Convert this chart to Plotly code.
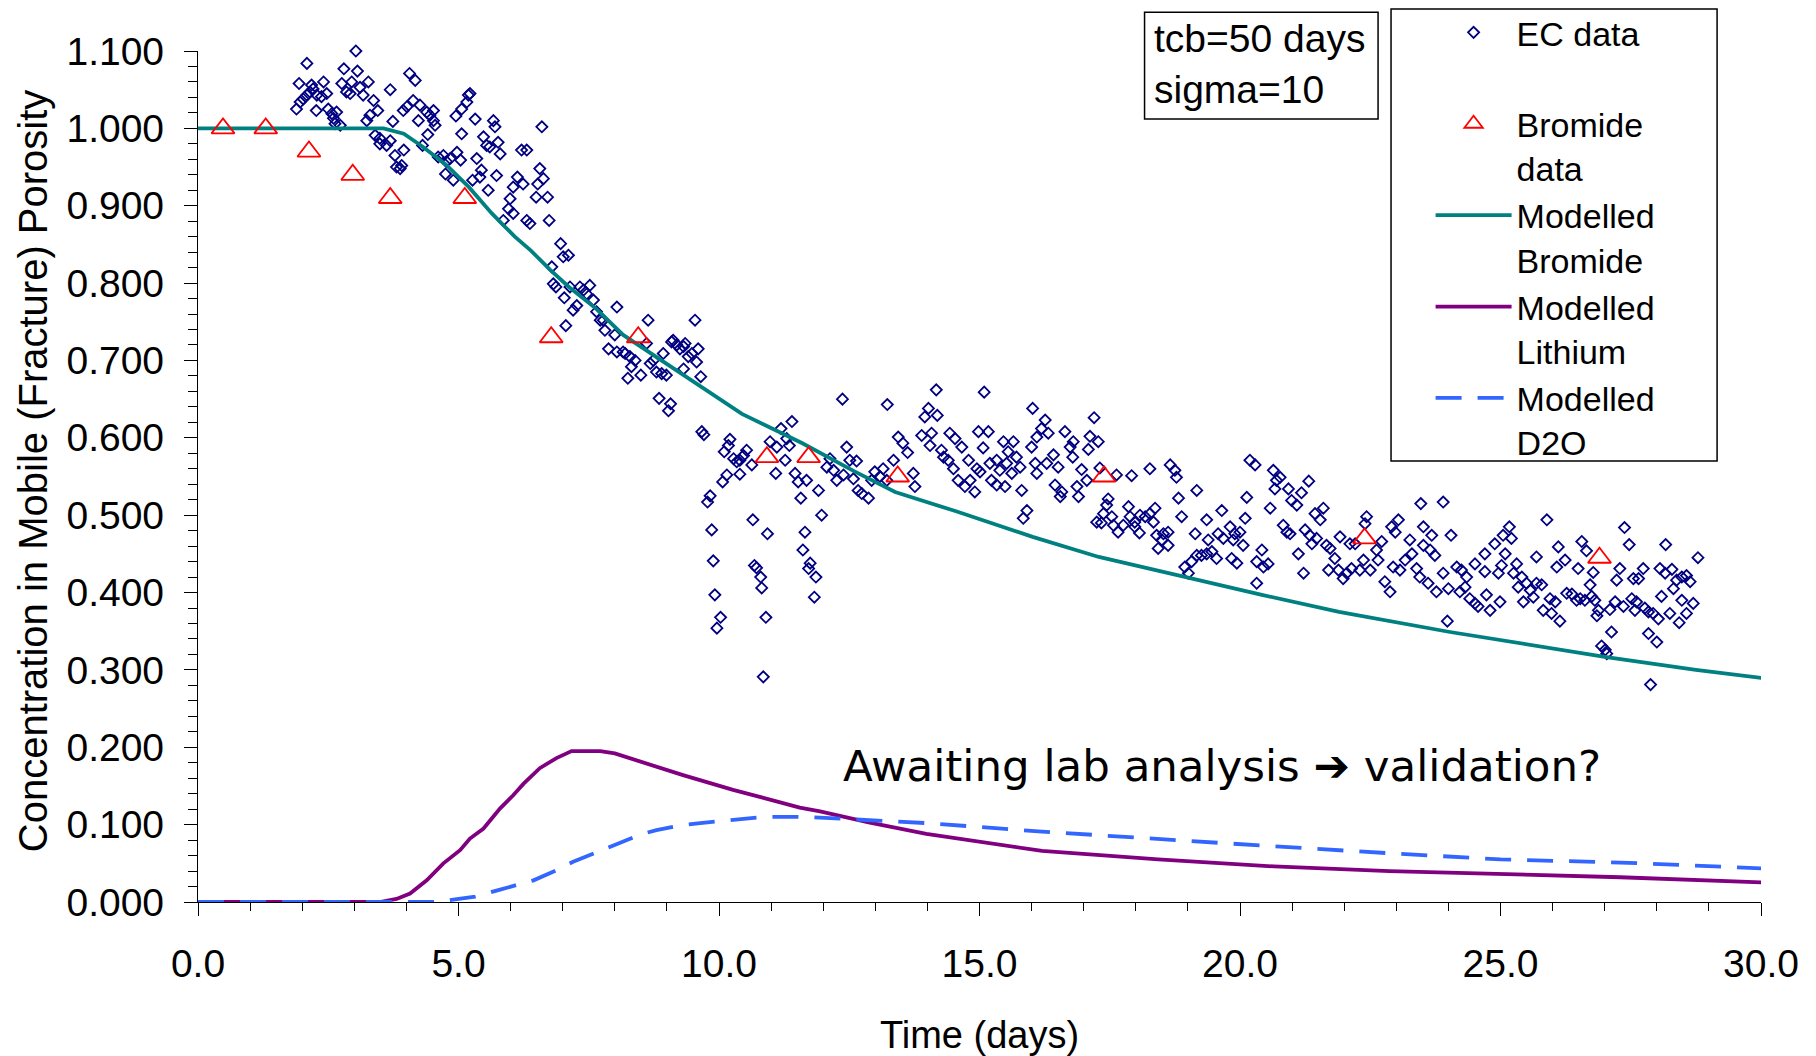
import plotly.graph_objects as go

# ---------------- data ----------------
# Modelled curves (time in days, concentration)
mod_br_time = [0, 1, 2, 3, 3.56, 3.95, 4.32, 4.76, 5.2, 5.64, 6.08, 6.39, 6.76, 7.12, 7.64, 8.16,
               8.9, 9.41, 10.0, 10.44, 11.6, 12.59, 13.38, 14.55, 16.02, 17.29, 18.96, 20.42,
               21.9, 24.03, 27.0, 28.75, 30.2]
mod_br_conc = [1.0, 1.0, 1.0, 1.0, 1.0, 0.993, 0.976, 0.953, 0.924, 0.890, 0.860, 0.842, 0.817,
               0.795, 0.767, 0.733, 0.700, 0.676, 0.651, 0.631, 0.593, 0.557, 0.530, 0.505,
               0.472, 0.446, 0.420, 0.397, 0.375, 0.349, 0.317, 0.300, 0.288]

mod_li_time = [0, 1, 2, 3, 3.49, 3.81, 4.07, 4.39, 4.71, 5.03, 5.22, 5.48, 5.8, 6.05, 6.25, 6.56,
               6.88, 7.17, 7.72, 8.0, 8.68, 9.31, 10.27, 10.98, 11.55, 11.94, 12.87, 13.98,
               16.2, 18.43, 20.65, 22.87, 25.0, 27.3, 30.2]
mod_li_conc = [0, 0, 0, 0, 0, 0.004, 0.011, 0.028, 0.05, 0.067, 0.082, 0.095, 0.121, 0.138,
               0.153, 0.173, 0.186, 0.195, 0.195, 0.192, 0.177, 0.164, 0.145, 0.132, 0.122,
               0.117, 0.103, 0.088, 0.066, 0.055, 0.046, 0.040, 0.036, 0.032, 0.025]

mod_d2o_time = [0, 1, 2, 3, 4, 4.58, 4.9, 5.32, 5.8, 6.44, 6.88, 7.2, 7.68, 8.0, 8.48, 8.8, 9.25,
                9.64, 10.08, 10.85, 11.65, 12.87, 13.98, 16.2, 18.43, 20.65, 22.87, 25.0, 27.3, 30.2]
mod_d2o_conc = [0, 0, 0, 0, 0, 0, 0.003, 0.007, 0.016, 0.028, 0.041, 0.052, 0.065, 0.074, 0.087,
                0.093, 0.099, 0.102, 0.105, 0.110, 0.110, 0.106, 0.102, 0.091, 0.081, 0.072,
                0.063, 0.055, 0.051, 0.043]

# Bromide data
br_time = [0.48, 1.3, 2.13, 2.97, 3.69, 5.12, 6.78, 8.45, 10.92, 11.72, 13.43, 17.39, 22.39, 26.9]
br_conc = [1.0, 1.0, 0.97, 0.94, 0.91, 0.91, 0.73, 0.73, 0.575, 0.575, 0.55, 0.55, 0.47, 0.445]

# EC data (in segments)
ec_time_a = [2.09, 3.03, 1.94, 1.89, 1.96, 2.02, 2.09, 2.15, 2.21, 2.18,
             2.28, 2.41, 2.37, 2.27, 2.47, 2.50, 2.57, 2.60, 2.66, 2.73,
             2.63, 2.80, 3.06, 2.76, 2.95, 2.85, 2.92, 3.11, 3.27, 3.17,
             3.37, 3.45, 3.24, 3.30, 3.69, 3.74, 4.06, 4.17, 4.13, 4.01,
             3.94, 4.26, 4.39, 4.23, 4.52, 4.45, 4.52, 4.55, 4.41, 3.40,
             3.49, 3.49, 3.62, 3.69, 3.78, 3.95, 3.81, 3.88, 3.91, 4.31,
             4.61, 4.71, 4.77, 4.84, 4.75, 4.90, 4.97, 5.04, 4.95, 5.06,
             5.16, 5.19, 5.22, 5.06, 5.32, 5.67, 5.70, 5.48, 5.54, 5.60,
             5.76, 5.80, 5.35, 5.44, 5.41, 5.27, 5.57, 5.73, 6.21, 6.31,
             6.60, 6.56, 6.63, 6.52, 6.13, 6.05, 6.24, 5.99, 6.49, 6.71,
             5.96, 6.05, 5.86, 6.31, 6.37, 6.74, 6.96, 7.01, 7.11, 6.79,
             6.82, 6.87, 7.03, 7.20, 7.27, 7.14, 7.33, 7.40, 7.52, 7.46,
             7.59, 7.65, 7.72, 7.81, 8.04, 8.64, 7.06, 7.88, 8.04, 8.16,
             9.54, 9.12, 9.19, 9.32, 9.60, 8.93]
ec_conc_a = [1.084, 1.100, 1.058, 1.025, 1.034, 1.038, 1.043, 1.047, 1.051, 1.056,
             1.043, 1.060, 1.041, 1.023, 1.045, 1.025, 1.019, 1.013, 1.021, 1.004,
             1.006, 1.077, 1.074, 1.058, 1.060, 1.047, 1.045, 1.053, 1.060, 1.043,
             1.036, 1.023, 1.010, 1.017, 1.050, 1.009, 1.071, 1.062, 1.036, 1.028,
             1.023, 1.030, 1.021, 1.010, 1.023, 1.017, 1.010, 1.004, 0.992, 0.991,
             0.987, 0.980, 0.978, 0.984, 0.965, 0.972, 0.950, 0.948, 0.952, 0.978,
             0.963, 0.965, 0.957, 0.961, 0.941, 0.933, 0.969, 0.959, 1.016, 1.025,
             1.034, 1.043, 1.045, 0.993, 1.012, 1.010, 1.002, 0.989, 0.978, 0.976,
             0.982, 0.967, 0.961, 0.946, 0.937, 0.933, 0.920, 0.939, 0.972, 0.972,
             1.002, 0.948, 0.935, 0.928, 0.937, 0.924, 0.928, 0.909, 0.911, 0.911,
             0.896, 0.890, 0.881, 0.881, 0.877, 0.881, 0.851, 0.834, 0.836, 0.821,
             0.799, 0.795, 0.781, 0.765, 0.771, 0.795, 0.795, 0.791, 0.797, 0.786,
             0.778, 0.763, 0.752, 0.739, 0.769, 0.752, 0.745, 0.715, 0.711, 0.711,
             0.752, 0.726, 0.720, 0.718, 0.715, 0.709]

ec_time_b = [7.78, 8.00, 8.20, 8.29, 8.32, 8.25, 8.50, 8.39, 8.61, 8.68,
             8.74, 8.80, 8.90, 8.99, 9.09, 9.25, 9.35, 9.41, 9.48, 9.57,
             9.32, 9.65, 8.85, 9.07, 9.03, 9.67, 9.71, 10.21, 10.18, 10.10,
             10.28, 10.34, 10.40, 10.47, 10.53, 10.63, 10.40, 10.15, 10.07, 9.83,
             9.78, 9.86, 9.89, 9.92, 10.03, 9.96, 10.65, 10.93, 10.68, 10.72,
             10.80, 10.82, 10.90, 10.85, 10.98, 11.11, 11.19, 11.40, 11.30, 11.35,
             11.27, 11.09, 11.46, 11.52, 11.68, 11.57, 11.91, 11.97, 11.65, 11.61,
             11.75, 11.72, 11.86, 11.83, 12.37, 12.45, 12.51, 12.64, 12.13, 12.07,
             12.20, 12.26, 12.39, 12.58, 12.67, 12.74, 12.87, 12.93, 12.99, 13.09,
             13.15, 13.22, 13.35, 13.44, 13.53, 13.62, 13.73, 13.76, 13.23, 14.17,
             14.02, 14.19, 13.95, 13.89, 14.08, 14.05, 14.31, 14.43, 14.53, 14.27,
             14.40, 14.50, 14.66, 14.79, 14.59, 14.82, 14.72, 14.91, 14.98, 15.17,
             15.07, 14.95, 15.01, 15.09, 15.46, 15.65, 15.55, 15.71, 15.20, 15.33,
             15.39, 15.52, 15.62, 15.23, 15.33, 15.49, 15.78, 15.81, 16.02, 16.26,
             16.19, 16.32, 16.10, 16.00, 16.07, 16.10, 16.29, 16.42, 16.45, 16.58,
             16.55, 16.64, 16.80, 16.74, 16.79, 16.51, 15.91, 15.84, 16.87, 16.90]
ec_conc_b = [0.752, 0.733, 0.709, 0.705, 0.692, 0.677, 0.681, 0.700, 0.722, 0.696,
             0.700, 0.685, 0.683, 0.681, 0.724, 0.715, 0.722, 0.705, 0.709, 0.698,
             0.689, 0.679, 0.651, 0.644, 0.635, 0.608, 0.604, 0.598, 0.590, 0.582,
             0.573, 0.569, 0.571, 0.577, 0.584, 0.565, 0.553, 0.552, 0.543, 0.525,
             0.517, 0.481, 0.441, 0.397, 0.368, 0.354, 0.494, 0.476, 0.435, 0.432,
             0.420, 0.406, 0.368, 0.291, 0.595, 0.588, 0.612, 0.621, 0.599, 0.590,
             0.571, 0.554, 0.554, 0.543, 0.545, 0.522, 0.532, 0.500, 0.478, 0.455,
             0.438, 0.431, 0.420, 0.394, 0.650, 0.588, 0.571, 0.570, 0.573, 0.562,
             0.558, 0.545, 0.552, 0.547, 0.532, 0.528, 0.522, 0.545, 0.556, 0.550,
             0.560, 0.545, 0.571, 0.601, 0.593, 0.581, 0.554, 0.537, 0.643, 0.662,
             0.638, 0.629, 0.627, 0.603, 0.606, 0.590, 0.575, 0.606, 0.599, 0.584,
             0.571, 0.560, 0.588, 0.571, 0.545, 0.545, 0.537, 0.530, 0.608, 0.608,
             0.587, 0.560, 0.556, 0.659, 0.595, 0.595, 0.582, 0.575, 0.567, 0.571,
             0.558, 0.567, 0.554, 0.545, 0.539, 0.537, 0.562, 0.532, 0.638, 0.623,
             0.612, 0.606, 0.601, 0.588, 0.567, 0.554, 0.567, 0.578, 0.539, 0.530,
             0.524, 0.608, 0.595, 0.588, 0.575, 0.562, 0.506, 0.496, 0.537, 0.524]

ec_time_c = [17.20, 17.12, 17.28, 17.09, 16.96, 17.31, 17.06, 17.63, 17.92, 18.27,
             18.66, 18.75, 18.78, 19.17, 18.82, 17.47, 17.44, 17.38, 17.54, 17.25,
             17.34, 17.57, 17.66, 17.76, 17.86, 17.89, 17.98, 18.08, 18.18, 18.27,
             18.37, 18.34, 18.07, 17.98, 18.40, 18.53, 18.62, 18.50, 18.62, 18.43,
             18.88, 19.14, 19.36, 19.39, 19.65, 19.58, 19.68, 19.81, 19.90, 20.00,
             20.06, 19.87, 20.19, 20.29, 20.64, 20.70, 20.77, 20.93, 21.18, 21.32,
             20.67, 20.99, 21.09, 20.13, 20.58, 20.10, 18.94, 19.01, 19.07, 19.17,
             19.26, 19.36, 19.46, 19.55, 19.84, 19.94, 20.32, 20.42, 20.32, 20.45,
             20.54, 20.83, 20.90, 20.96, 21.12, 21.22, 21.25, 21.34, 21.47, 21.38,
             21.44, 21.54, 21.60, 21.66, 21.73, 21.82, 21.92, 21.70, 21.89, 21.98,
             22.05, 22.11, 22.21, 22.14, 22.30, 22.37, 22.50, 22.43, 22.40, 22.62,
             22.72, 22.65, 22.78, 22.88, 22.91, 23.04, 22.98, 22.94, 23.07, 23.17,
             23.26, 23.30, 23.39, 23.45, 23.47, 23.52, 23.68, 23.52, 23.65, 23.74,
             23.61, 23.77, 23.90, 23.90, 24.05, 24.00, 24.16, 24.25, 24.35, 24.22,
             24.32, 23.98, 24.41, 24.51, 24.57, 24.73, 24.80, 24.70, 24.96, 24.99,
             24.51, 24.70, 24.89, 25.05, 25.17, 25.21, 25.09, 25.02, 25.31, 25.25,
             25.41, 25.50, 25.34, 25.57, 25.44, 25.63, 25.69, 25.79, 25.89, 25.82,
             25.98, 25.95, 26.11, 25.69, 26.08, 26.24, 26.14, 26.05, 26.27]
ec_conc_c = [0.626, 0.602, 0.595, 0.585, 0.559, 0.561, 0.545, 0.552, 0.551, 0.560,
             0.565, 0.558, 0.549, 0.532, 0.522, 0.521, 0.513, 0.502, 0.498, 0.491,
             0.490, 0.487, 0.478, 0.487, 0.511, 0.498, 0.491, 0.500, 0.498, 0.502,
             0.509, 0.491, 0.477, 0.485, 0.474, 0.476, 0.478, 0.468, 0.461, 0.457,
             0.498, 0.476, 0.494, 0.468, 0.506, 0.476, 0.470, 0.485, 0.476, 0.478,
             0.461, 0.468, 0.571, 0.565, 0.558, 0.545, 0.549, 0.534, 0.529, 0.544,
             0.534, 0.519, 0.513, 0.523, 0.509, 0.496, 0.433, 0.425, 0.440, 0.448,
             0.448, 0.450, 0.453, 0.444, 0.444, 0.438, 0.412, 0.455, 0.440, 0.433,
             0.437, 0.487, 0.478, 0.476, 0.450, 0.425, 0.481, 0.474, 0.470, 0.463,
             0.502, 0.494, 0.509, 0.461, 0.457, 0.444, 0.472, 0.429, 0.429, 0.418,
             0.425, 0.463, 0.463, 0.431, 0.429, 0.442, 0.429, 0.498, 0.489, 0.455,
             0.466, 0.442, 0.414, 0.401, 0.485, 0.494, 0.478, 0.433, 0.429, 0.442,
             0.468, 0.450, 0.431, 0.420, 0.515, 0.485, 0.474, 0.461, 0.455, 0.448,
             0.412, 0.401, 0.425, 0.517, 0.474, 0.405, 0.433, 0.429, 0.420, 0.401,
             0.407, 0.363, 0.392, 0.386, 0.382, 0.397, 0.377, 0.427, 0.425, 0.388,
             0.437, 0.450, 0.463, 0.474, 0.485, 0.470, 0.450, 0.435, 0.437, 0.425,
             0.420, 0.412, 0.407, 0.403, 0.388, 0.394, 0.412, 0.410, 0.494, 0.377,
             0.373, 0.392, 0.459, 0.446, 0.433, 0.442, 0.363, 0.388, 0.399]

ec_time_d = [26.49, 26.56, 26.65, 26.78, 26.72, 26.37, 26.46, 26.53, 26.62, 26.75,
             26.81, 26.88, 26.85, 27.10, 27.20, 27.36, 27.13, 26.94, 27.01, 27.04,
             27.38, 27.47, 27.29, 27.23, 27.55, 27.65, 27.74, 27.52, 27.61, 27.58,
             27.77, 27.84, 27.93, 28.03, 27.84, 28.00, 27.88, 28.09, 28.25, 28.43,
             28.06, 28.16, 28.29, 28.32, 28.38, 28.48, 28.57, 28.64, 28.17, 28.48,
             28.57, 28.70, 28.79]
ec_conc_d = [0.431, 0.466, 0.454, 0.426, 0.410, 0.398, 0.390, 0.392, 0.390, 0.395,
             0.390, 0.377, 0.370, 0.378, 0.388, 0.382, 0.349, 0.331, 0.326, 0.321,
             0.484, 0.462, 0.431, 0.416, 0.418, 0.418, 0.431, 0.392, 0.388, 0.377,
             0.380, 0.375, 0.373, 0.366, 0.347, 0.336, 0.281, 0.395, 0.373, 0.361,
             0.431, 0.425, 0.430, 0.405, 0.416, 0.420, 0.422, 0.414, 0.462, 0.390,
             0.373, 0.386, 0.445]

ec_pairs = (list(zip(ec_time_a, ec_conc_a)) + list(zip(ec_time_b, ec_conc_b))
            + list(zip(ec_time_c, ec_conc_c)) + list(zip(ec_time_d, ec_conc_d)))
ec_time = [p[0] for p in ec_pairs]
ec_conc = [p[1] for p in ec_pairs]

# ---------------- figure ----------------
ARIAL = "Liberation Sans, Arial, sans-serif"

fig = go.Figure()

fig.add_trace(go.Scatter(
    x=ec_time, y=ec_conc, mode="markers", name="EC data<br> ",
    marker=dict(symbol="diamond-open", size=8.5, color="#000080", line=dict(width=1.8, color="#000080")),
    cliponaxis=False, legendrank=1,
))
fig.add_trace(go.Scatter(
    x=mod_br_time, y=mod_br_conc, mode="lines", name="Modelled<br>Bromide",
    line=dict(color="#008080", width=3.8), legendrank=3,
))
fig.add_trace(go.Scatter(
    x=mod_li_time, y=mod_li_conc, mode="lines", name="Modelled<br>Lithium",
    line=dict(color="#800080", width=3.8), legendrank=4,
))
fig.add_trace(go.Scatter(
    x=mod_d2o_time, y=mod_d2o_conc, mode="lines", name="Modelled<br>D2O",
    line=dict(color="#3366FF", width=3.8, dash="26px,16px"), legendrank=5,
))
fig.add_trace(go.Scatter(
    x=br_time, y=br_conc, mode="markers", name="Bromide<br>data",
    marker=dict(symbol="triangle-up-open", size=20, color="#FF0000", line=dict(width=1.8, color="#FF0000")),
    legendrank=2,
))

fig.update_layout(
    width=1808, height=1048,
    margin=dict(l=190, r=55, t=43, b=154, autoexpand=False),
    paper_bgcolor="white", plot_bgcolor="white",
    font=dict(family=ARIAL, size=38, color="black"),
    showlegend=True,
    legend=dict(
        x=0.7886, y=1.0555, xanchor="left", yanchor="top",
        bgcolor="rgba(0,0,0,0)", borderwidth=0,
        font=dict(family=ARIAL, size=34, color="black"),
        valign="top", itemwidth=76, tracegroupgap=0,
    ),
    xaxis=dict(
        range=[0, 30], dtick=5, tick0=0, tickformat=".1f",
        showline=True, linecolor="black", linewidth=1.3,
        ticks="outside", ticklen=13, tickwidth=1.3, tickcolor="black",
        minor=dict(dtick=1, ticks="outside", ticklen=8, tickwidth=1.1, tickcolor="black", showgrid=False),
        showgrid=False, zeroline=False,
        tickfont=dict(family=ARIAL, size=39, color="black"),
        ticklabelstandoff=14,
        title=dict(text="Time (days)", font=dict(family=ARIAL, size=38, color="black"), standoff=39),
        automargin=False,
    ),
    yaxis=dict(
        range=[0, 1.1], dtick=0.1, tick0=0, tickformat=".3f",
        showline=True, linecolor="black", linewidth=1.3,
        ticks="outside", ticklen=13, tickwidth=1.3, tickcolor="black",
        minor=dict(dtick=0.02, ticks="outside", ticklen=9, tickwidth=1.1, tickcolor="black", showgrid=False),
        showgrid=False, zeroline=False,
        tickfont=dict(family=ARIAL, size=39, color="black"),
        ticklabelstandoff=12,
        title=dict(text="&nbsp;Concentration in Mobile (Fracture) Porosity",
                   font=dict(family=ARIAL, size=40, color="black"), standoff=6),
        automargin=False,
    ),
    shapes=[
        # legend frame
        dict(type="rect", xref="paper", yref="paper", x0=0.7633, x1=0.9719, y0=0.5182, y1=1.0495,
             line=dict(color="black", width=1.5), fillcolor="rgba(0,0,0,0)", layer="above"),
        # parameter box frame
        dict(type="rect", xref="paper", yref="paper", x0=0.6056, x1=0.755, y0=0.9201, y1=1.0455,
             line=dict(color="black", width=1.5), fillcolor="white", layer="above"),
    ],
    annotations=[
        dict(
            text="tcb=50 days<br>sigma=10", xref="paper", yref="paper",
            x=0.611, y=0.9843, xanchor="left", yanchor="middle", align="left",
            showarrow=False, borderpad=0,
            font=dict(family=ARIAL, size=39, color="black"),
        ),
        dict(
            text="Awaiting lab analysis \u2794 validation?", xref="x", yref="y",
            x=19.645, y=0.176, xanchor="center", yanchor="middle", showarrow=False,
            font=dict(family="DejaVu Sans, Verdana, sans-serif", size=43.5, color="black"),
        ),
    ],
)

fig.write_html("out.html")
